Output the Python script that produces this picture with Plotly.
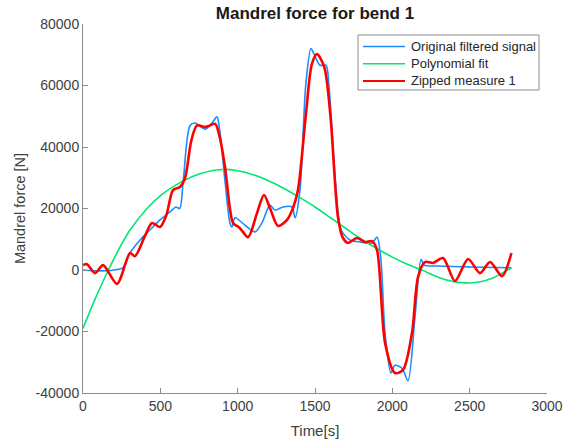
import plotly.graph_objects as go

# Original filtered signal
blue_t = [0, 100, 200, 260, 304, 369, 433, 498, 563, 600, 625, 647, 692, 724, 789, 834, 866, 885, 920, 950, 963, 983, 1047, 1112, 1157, 1209, 1241, 1293, 1351, 1371, 1403, 1440, 1474, 1500, 1532, 1571, 1590, 1630, 1662, 1681, 1726, 1791, 1869, 1901, 1925, 1953, 1991, 2017, 2063, 2101, 2147, 2186, 2205, 2300, 2500, 2770]
blue_v = [0, -300, 0, 800, 5500, 9750, 13000, 16300, 18900, 20500, 20000, 28300, 47000, 47800, 45800, 47800, 49800, 45000, 28000, 15300, 14000, 17000, 14600, 12400, 15300, 21100, 19500, 20500, 20500, 17000, 26000, 60000, 72000, 69500, 66600, 66600, 60000, 30000, 14000, 12000, 9750, 9100, 8800, 10700, 4000, -20500, -33500, -31000, -32000, -36000, -15000, 3500, 1600, 1300, 1000, 700]

# Polynomial fit
green_t = [0, 82, 164, 240, 304, 414, 517, 627, 757, 900, 1000, 1100, 1200, 1300, 1400, 1500, 1600, 1700, 1800, 1900, 2000, 2100, 2200, 2300, 2400, 2480, 2560, 2650, 2770]
green_v = [-19000, -9000, 0, 7500, 13000, 20000, 24800, 28400, 31300, 32700, 32300, 31000, 29000, 26500, 23600, 20500, 17000, 13500, 10000, 7000, 4200, 1800, -200, -2400, -3800, -4200, -3900, -2600, 700]

# Zipped measure 1
red_t = [0, 25, 78, 130, 220, 304, 336, 400, 446, 498, 540, 582, 627, 660, 700, 737, 789, 810, 855, 880, 918, 950, 970, 1015, 1067, 1125, 1170, 1210, 1261, 1319, 1358, 1390, 1440, 1480, 1513, 1560, 1600, 1649, 1681, 1714, 1772, 1823, 1869, 1901, 1953, 2017, 2069, 2127, 2166, 2211, 2263, 2328, 2405, 2490, 2567, 2632, 2709, 2770]
red_v = [1600, 1900, -1000, 1600, -4500, 5500, 4500, 11000, 15300, 14000, 18000, 26000, 27000, 30000, 42000, 47000, 46500, 46800, 47500, 44000, 33500, 20000, 15300, 13600, 10700, 18500, 24400, 20000, 14300, 16300, 20200, 26000, 50000, 67000, 70200, 66000, 50000, 17000, 10400, 8800, 10400, 9100, 9400, 6500, -23700, -33500, -32500, -20500, -2300, 2600, 2300, 3900, -3600, 3600, -1000, 2600, -2000, 5500]

series_names = ["Original filtered signal", "Polynomial fit", "Zipped measure 1"]
series_colors = ["#1a8cff", "#00e673", "#ff0000"]
series_widths = [1.6, 1.6, 2.6]

x_ticks = [0, 500, 1000, 1500, 2000, 2500, 3000]
y_ticks = [-40000, -20000, 0, 20000, 40000, 60000, 80000]

font = "Liberation Sans, Arial, sans-serif"

fig = go.Figure()
for (tx, vy), name, col, w in zip([(blue_t, blue_v), (green_t, green_v), (red_t, red_v)],
                                  series_names, series_colors, series_widths):
    fig.add_trace(go.Scatter(x=tx, y=vy, mode="lines", name=name, showlegend=False,
                             line=dict(color=col, width=w, shape="spline", smoothing=0.8)))

# Legend box (MATLAB style), drawn in paper coordinates
L, R, T, B = 83, 547, 24, 393
W, H = R - L, B - T
def px(xp):
    return (xp - L) / W
def py(yp):
    return (B - yp) / H

shapes = [dict(type="rect", xref="paper", yref="paper", x0=px(358), x1=px(539), y0=py(90), y1=py(35),
               line=dict(color="#8c8c8c", width=1), fillcolor="white", layer="above")]
annotations = []
for i, (name, col) in enumerate(zip(series_names, series_colors)):
    yy = py(46.5 + 17.2 * i)
    shapes.append(dict(type="line", xref="paper", yref="paper", x0=px(363), x1=px(405), y0=yy, y1=yy,
                       line=dict(color=col, width=2 if i == 2 else 1.6), layer="above"))
    annotations.append(dict(xref="paper", yref="paper", x=px(409), y=yy, xanchor="left", yanchor="middle",
                            text=name, showarrow=False, font=dict(size=13, color="#262626", family=font)))

fig.update_layout(
    width=576, height=440,
    margin=dict(l=L, r=576 - R, t=T, b=440 - B),
    paper_bgcolor="white", plot_bgcolor="white",
    font=dict(family=font, size=14, color="#404040"),
    title=dict(text="<b>Mandrel force for bend 1</b>", x=(L + R) / 2 / 576, xanchor="center",
               y=1 - 13 / 440, yanchor="middle", font=dict(size=17, color="#1a1a1a")),
    showlegend=False,
    shapes=shapes,
    annotations=annotations,
    xaxis=dict(range=[0, 3000], tickvals=x_ticks, ticktext=[str(v) for v in x_ticks],
               showgrid=False, zeroline=False, showline=True, linecolor="#8c8c8c", linewidth=1,
               ticks="inside", ticklen=5, tickcolor="#8c8c8c", automargin=False,
               title=dict(text="Time[s]", standoff=12, font=dict(size=15, color="#404040"))),
    yaxis=dict(range=[-40000, 80000], tickvals=y_ticks, ticktext=[str(v) for v in y_ticks],
               showgrid=False, zeroline=False, showline=True, linecolor="#8c8c8c", linewidth=1,
               ticks="inside", ticklen=5, tickcolor="#8c8c8c", automargin=False,
               title=dict(text="Mandrel force [N]", standoff=6, font=dict(size=14.5, color="#404040"))),
)

fig.write_html("out.html", config={"displayModeBar": False},
               post_script="document.body.style.margin='0';")
